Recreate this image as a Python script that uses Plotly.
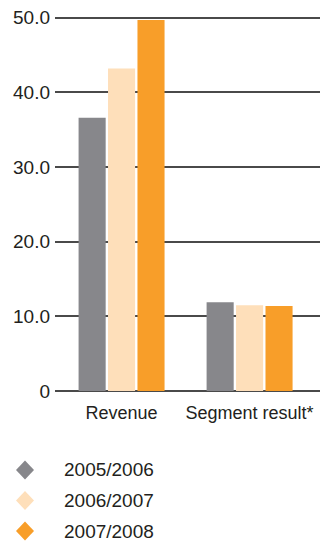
import plotly.graph_objects as go

categories = ["Revenue", "Segment result*"]
series_names = ["2005/2006", "2006/2007", "2007/2008"]
values_0506 = [36.6, 11.9]
values_0607 = [43.2, 11.5]
values_0708 = [49.7, 11.4]
colors = ["#87878b", "#fedfba", "#f89e29"]
y_tickvals = [0, 10, 20, 30, 40, 50]
y_ticktext = ["0", "10.0", "20.0", "30.0", "40.0", "50.0"]

font_family = "Liberation Sans, Arial, sans-serif"
text_color = "#231f20"

fig = go.Figure()
for name, vals, col in zip(series_names, [values_0506, values_0607, values_0708], colors):
    fig.add_trace(go.Bar(x=categories, y=vals, name=name, marker_color=col,
                         marker_line_width=0, showlegend=False))

# Manual legend (diamond glyph + label) below the plot, in paper coordinates
W, H, L, T, B = 320, 541, 55, 14, 150
plot_w, plot_h = W - L, H - T - B
first_center_px, step_px = 470, 30.5
sym_x = (25 - L) / plot_w
txt_x = (62 - L) / plot_w
for i, (name, col) in enumerate(zip(series_names, colors)):
    yc = (H - B - (first_center_px + i * step_px)) / plot_h
    fig.add_shape(type="path", xref="paper", yref="paper",
                  xsizemode="pixel", ysizemode="pixel",
                  xanchor=sym_x, yanchor=yc,
                  path="M -9,0 L 0,9.5 L 9,0 L 0,-9.5 Z",
                  fillcolor=col, line_width=0)
    fig.add_annotation(text=name, xref="paper", yref="paper", x=txt_x, y=yc,
                       xanchor="left", yanchor="middle", showarrow=False,
                       font=dict(size=19, color=text_color, family=font_family))

fig.update_layout(
    width=W, height=H,
    margin=dict(l=L, r=0, t=T, b=B),
    paper_bgcolor="white", plot_bgcolor="white",
    barmode="group", bargap=0.31, bargroupgap=0.08,
    showlegend=False,
    font=dict(family=font_family, size=19, color=text_color),
    xaxis=dict(range=[-0.52, 1.55], showgrid=False, showline=False, zeroline=False,
               ticks="", ticklabelstandoff=9, tickfont=dict(size=18)),
    yaxis=dict(range=[0, 50.5], tickvals=y_tickvals, ticktext=y_ticktext,
               showgrid=True, gridcolor="#4a4a4a", gridwidth=1.6,
               zeroline=True, zerolinecolor="#4a4a4a", zerolinewidth=1.6,
               showline=False, ticks="", ticklabelstandoff=4, tickfont=dict(size=19)),
)
fig.write_html("out.html")
